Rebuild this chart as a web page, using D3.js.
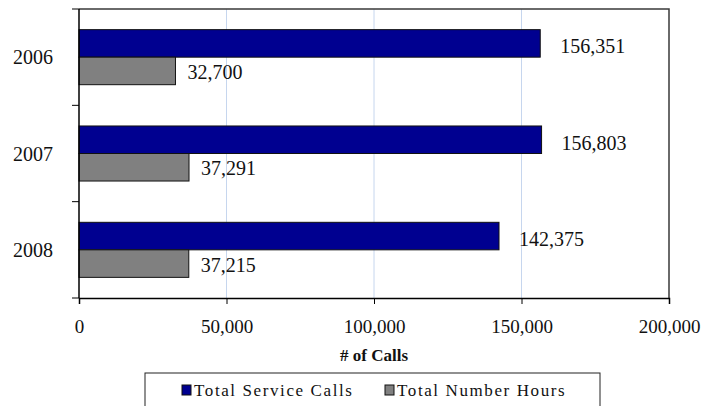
<!DOCTYPE html>
<html>
<head>
<meta charset="utf-8">
<script src="https://cdn.jsdelivr.net/npm/d3@7"></script>
<style>
  body { margin: 0; background: #fff; }
  svg { display: block; }
</style>
</head>
<body>
<script>
// chart values
var years = ["2006", "2007", "2008"];
var serviceCalls = [156351, 156803, 142375];
var numberHours = [32700, 37291, 37215];
var seriesNames = ["Total Service Calls", "Total Number Hours"];
var xTicks = [0, 50000, 100000, 150000, 200000];

var width = 704,
    height = 406,
    plotL = 79, plotR = 669, plotT = 9, plotB = 298,
    fmt = d3.format(",");

var svg = d3.select("body").append("svg")
    .attr("width", width)
    .attr("height", height)
    .style("font-family", "'Liberation Serif', 'Times New Roman', serif");

var x = d3.scaleLinear().domain([0, 200000]).range([plotL, plotR]);
var y = d3.scaleBand().domain(years).range([plotT, plotB]).paddingInner(0).paddingOuter(0);
var sub = d3.scaleBand().domain([0, 1]).range([0, y.bandwidth()]).paddingOuter(0.75).paddingInner(0);

// grid
svg.append("g").selectAll("line")
    .data(xTicks.slice(1, -1))
    .enter().append("line")
    .attr("x1", d => x(d)).attr("x2", d => x(d))
    .attr("y1", plotT).attr("y2", plotB)
    .attr("stroke", "#c6d6ee")
    .attr("stroke-width", 1);

// plot frame (top + right)
svg.append("path")
    .attr("d", "M" + plotL + "," + plotT + "H" + plotR + "V" + plotB)
    .attr("fill", "none")
    .attr("stroke", "#3a3a3a")
    .attr("stroke-width", 1.5);

var rows = years.map(function(yr, i) {
  return { year: yr, vals: [serviceCalls[i], numberHours[i]] };
});

var colors = ["#000090", "#808080"];

var g = svg.append("g").selectAll("g")
    .data(rows)
    .enter().append("g")
    .attr("transform", d => "translate(0," + y(d.year) + ")");

g.selectAll("rect")
    .data(d => d.vals)
    .enter().append("rect")
    .attr("x", x(0))
    .attr("y", (d, j) => sub(j))
    .attr("width", d => x(d) - x(0))
    .attr("height", sub.bandwidth())
    .attr("fill", (d, j) => colors[j])
    .attr("stroke", "#111")
    .attr("stroke-width", 1);

g.selectAll("text")
    .data(d => d.vals)
    .enter().append("text")
    .attr("x", (d, j) => x(d) + (j == 0 ? 20 : 12))
    .attr("y", (d, j) => sub(j) + sub.bandwidth() / 2 + (j == 0 ? 3 : 1))
    .attr("dy", "0.35em")
    .attr("font-size", "20px")
    .attr("fill", "#111")
    .text(d => fmt(d));

// y axis
var yAxis = svg.append("g")
    .attr("transform", "translate(" + plotL + ",0)");
yAxis.append("line")
    .attr("x1", 0).attr("x2", 0).attr("y1", plotT).attr("y2", plotB)
    .attr("stroke", "#000").attr("stroke-width", 1.5);
yAxis.selectAll(".tk")
    .data(years.concat(["end"]))
    .enter().append("line")
    .attr("x1", -7).attr("x2", 0)
    .attr("y1", (d, i) => i < years.length ? y(d) : plotB)
    .attr("y2", (d, i) => i < years.length ? y(d) : plotB)
    .attr("stroke", "#000");
yAxis.selectAll("text")
    .data(years)
    .enter().append("text")
    .attr("x", -26)
    .attr("y", d => y(d) + y.bandwidth() / 2)
    .attr("dy", "0.35em")
    .attr("text-anchor", "end")
    .attr("font-size", "20px")
    .attr("fill", "#111")
    .text(d => d);

// x axis
var xAxis = d3.axisBottom(x)
    .tickValues(xTicks)
    .tickFormat(fmt)
    .tickSize(6)
    .tickPadding(16);
var xg = svg.append("g")
    .attr("transform", "translate(0," + plotB + ")")
    .call(xAxis);
xg.select(".domain").attr("stroke", "#000").attr("stroke-width", 1.5);
xg.selectAll(".tick line").attr("stroke", "#000");
xg.selectAll("text")
    .attr("font-family", "'Liberation Serif', serif")
    .attr("font-size", "19px")
    .attr("fill", "#111");

svg.append("text")
    .attr("x", (plotL + plotR) / 2)
    .attr("y", 355)
    .attr("dy", "0.35em")
    .attr("text-anchor", "middle")
    .attr("font-size", "17px")
    .attr("font-weight", "bold")
    .attr("fill", "#111")
    .text("# of Calls");

// legend
svg.append("rect")
    .attr("x", 145).attr("y", 373)
    .attr("width", 455).attr("height", 40)
    .attr("fill", "#fff")
    .attr("stroke", "#222")
    .attr("stroke-width", 1);

var lg = svg.append("g").selectAll("g")
    .data(seriesNames)
    .enter().append("g")
    .attr("transform", (d, i) => "translate(" + (182 + i * 203) + ",390)");
lg.append("rect")
    .attr("x", 0).attr("y", -5)
    .attr("width", 9).attr("height", 10)
    .attr("fill", (d, i) => colors[i])
    .attr("stroke", "#111");
lg.append("text")
    .attr("x", 12)
    .attr("dy", "0.35em")
    .attr("font-size", "17px")
    .attr("letter-spacing", "1.6px")
    .attr("fill", "#111")
    .text(d => d);
</script>
</body>
</html>
